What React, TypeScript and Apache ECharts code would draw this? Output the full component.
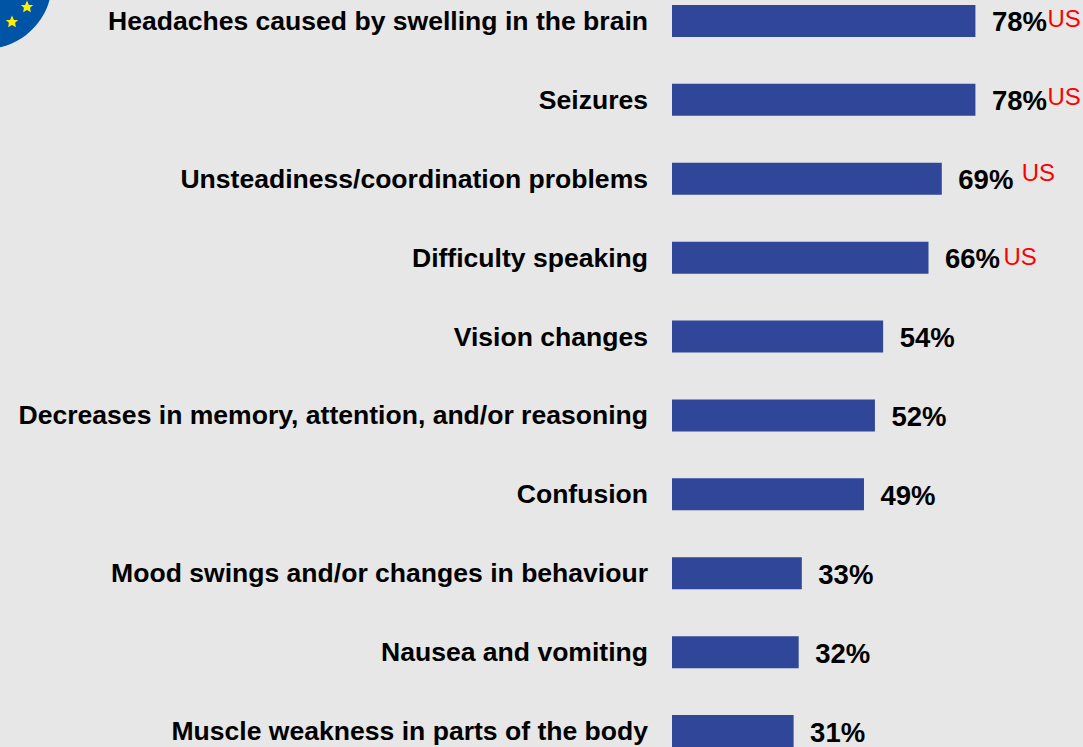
import React, { useEffect, useRef } from "react";
import * as echarts from "echarts";

const categories = [
  "Headaches caused by swelling in the brain",
  "Seizures",
  "Unsteadiness/coordination problems",
  "Difficulty speaking",
  "Vision changes",
  "Decreases in memory, attention, and/or reasoning",
  "Confusion",
  "Mood swings and/or changes in behaviour",
  "Nausea and vomiting",
  "Muscle weakness in parts of the body",
];
const percentages = [77.6, 77.6, 69, 65.6, 54, 51.9, 49.1, 33.2, 32.4, 31.1];
const usMarks = ["US", "US", "US", "US", "", "", "", "", "", ""];
const usOffsets = [[0, -2], [0, -3], [8, -6], [3, -1], [0, 0], [0, 0], [0, 0], [0, 0], [0, 0], [0, 0]];

const FONT = "'Liberation Sans', Arial, sans-serif";
const BG = "#e7e7e7";
const BAR = "#2f4699";

const starPath = "M0,-10 L2.94,-3.09 L9.51,-3.09 L4.76,1.18 L5.88,8.09 L0,4.5 L-5.88,8.09 L-4.76,1.18 L-9.51,-3.09 L-2.94,-3.09 Z";
echarts.graphic.registerShape("euStar", echarts.graphic.extendPath(starPath, {}) as any);

export default function App() {
  const ref = useRef<HTMLDivElement>(null);
  useEffect(() => {
    document.body.style.margin = "0";
    document.body.style.background = BG;
    const chart = echarts.init(ref.current!, undefined, { renderer: "svg" });
    chart.setOption({
      animation: false,
      backgroundColor: BG,
      grid: { left: 672, top: -18.5, width: 391, height: 789, containLabel: false, outerBoundsMode: "none" },
      xAxis: { type: "value", min: 0, max: 100, show: false },
      yAxis: {
        type: "category",
        inverse: true,
        data: categories,
        axisLine: { show: false },
        axisTick: { show: false },
        splitLine: { show: false },
        axisLabel: {
          margin: 24,
          color: "#000",
          fontFamily: FONT,
          fontWeight: "bold",
          fontSize: 26.55,
          interval: 0,
        },
      },
      series: [
        {
          type: "bar",
          name: "Share of respondents",
          data: percentages,
          barWidth: 32,
          itemStyle: { color: BAR },
          label: {
            show: true,
            position: "right",
            distance: 16.5,
            offset: [0, 1],
            formatter: (p: any) => `${Math.round(p.value)}%`,
            color: "#000",
            fontFamily: FONT,
            fontWeight: "bold",
            fontSize: 27.5,
          },
          z: 2,
        },
        {
          type: "bar",
          name: "US",
          barGap: "-100%",
          barWidth: 32,
          silent: true,
          itemStyle: { color: "transparent" },
          data: percentages.map((v, i) => ({
            value: v,
            label: {
              show: usMarks[i] !== "",
              position: "right",
              distance: 72,
              offset: usOffsets[i],
              formatter: usMarks[i],
              color: "#ff0000",
              fontFamily: FONT,
              fontSize: 24,
            },
          })),
          z: 3,
        },
      ],
      graphic: [
        {
          type: "group",
          silent: true,
          children: [
            { type: "circle", shape: { cx: -15, cy: -18, r: 67 }, style: { fill: "#0054a6" } },
            { type: "euStar", x: 27, y: 7, scaleX: 0.65, scaleY: 0.65, style: { fill: "#ffee00" } },
            { type: "euStar", x: 12, y: 22, scaleX: 0.65, scaleY: 0.65, style: { fill: "#ffee00" } },
          ],
        },
      ],
    });
    return () => chart.dispose();
  }, []);
  return <div ref={ref} style={{ width: 1083, height: 747 }} />;
}
